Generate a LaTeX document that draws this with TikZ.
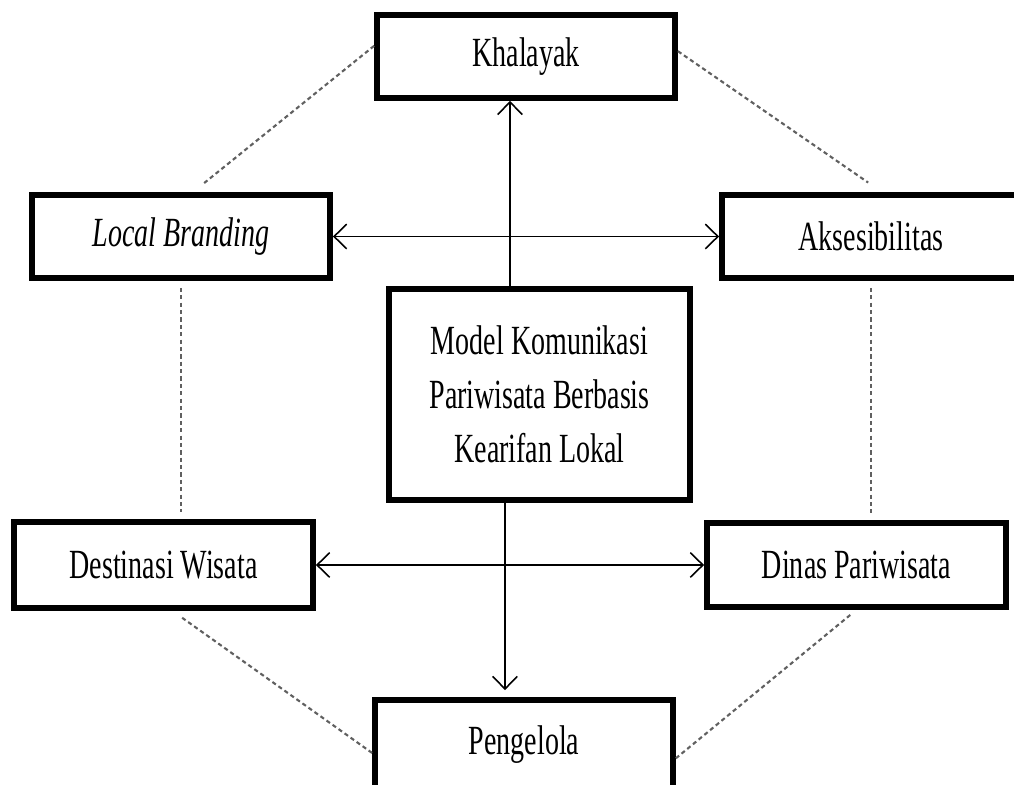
\documentclass[tikz,border=0pt]{standalone}
\usepackage{fontspec}
\setmainfont{Liberation Serif}[FakeStretch=0.675]
\usetikzlibrary{arrows.meta}
\tikzset{
  kotak/.style={draw, line width=1.6pt, minimum width=2.98cm, minimum height=0.83cm,
    inner sep=0pt, align=center, font=\fontsize{11.8}{15.4}\selectfont},
  putus/.style={draw=gray!75!black, line width=0.6pt, dash pattern=on 1.2pt off 0.9pt}
}
\begin{document}
\begin{tikzpicture}[x=0.01cm, y=-0.01cm, >={Straight Barb[length=3.6pt,width=7pt]}]
  \useasboundingbox (0,0) rectangle (1014,785);
  \clip (0,0) rectangle (1014,785);
  \node[kotak] (khalayak) at (526,56.5) {Khalayak};
  \node[kotak] (branding) at (181,236.5) {\textit{Local Branding}};
  \node[kotak] (akses) at (871,236.5) {Aksesibilitas};
  \node[kotak, minimum width=3.01cm, minimum height=2.11cm] (model) at (539.5,394.5)
    {Model Komunikasi\\Pariwisata Berbasis\\Kearifan Lokal};
  \node[kotak, minimum width=2.99cm, minimum height=0.86cm] (destinasi) at (163.5,565) {Destinasi Wisata};
  \node[kotak, minimum width=2.99cm, minimum height=0.84cm] (dinas) at (856.5,565) {Dinas Pariwisata};
  \node[kotak, minimum height=0.9cm] (pengelola) at (524,745) {Pengelola};
  \draw[->, line width=0.45pt] ([xshift=-0.295cm]model.north) -- ([xshift=-0.295cm]model.north |- khalayak.south);
  \draw[->, line width=0.45pt, shorten >=2pt] ([xshift=-0.345cm]model.south) -- ([xshift=-0.345cm]model.south |- pengelola.north);
  \draw[<->, line width=0.45pt] (branding.east) -- (akses.west);
  \draw[<->, line width=0.45pt] (destinasi.east) -- (dinas.west);
  \draw[putus, shorten >=3.6pt] (khalayak.176.4) -- (branding.75.2);
  \draw[putus, shorten >=4.8pt] (khalayak.2.5) -- (akses.76.8);
  \draw[putus, shorten <=3.4pt] (destinasi.281.2) -- (pengelola.183.1);
  \draw[putus, shorten <=2.3pt] (dinas.south) -- (pengelola.355.4);
  \draw[putus, shorten <=2pt, shorten >=2pt] (branding.south) -- (branding.south |- destinasi.north);
  \draw[putus, shorten <=2pt, shorten >=2pt] (akses.south) -- (akses.south |- dinas.north);
\end{tikzpicture}
\end{document}
